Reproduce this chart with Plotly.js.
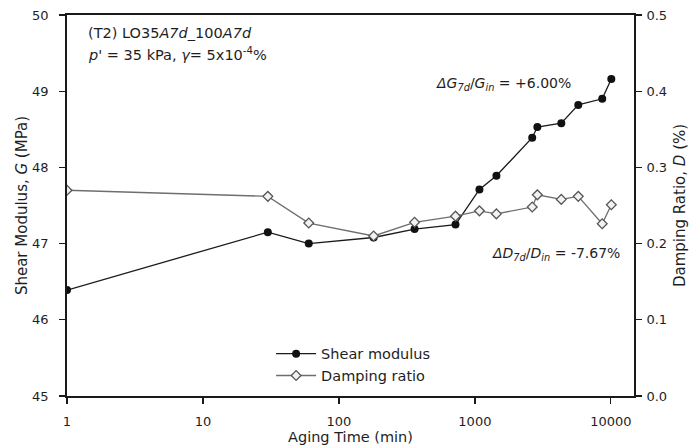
<!DOCTYPE html>
<html>
<head>
<meta charset="utf-8">
<script src="https://cdn.plot.ly/plotly-3.0.1.min.js"></script>
<style>html,body{margin:0;padding:0;background:#fff;}#chart{width:689px;height:447px;}</style>
</head>
<body>
<div id="chart"></div>
<script>
// Aging time (min)
const agingTime = [1, 30, 60, 180, 360, 720, 1080, 1440, 2640, 2880, 4320, 5760, 8640, 10080];
// Shear modulus G (MPa)
const shearModulus = [46.39, 47.15, 47.00, 47.08, 47.19, 47.25, 47.71, 47.89, 48.39, 48.53, 48.58, 48.82, 48.90, 49.16];
// Damping ratio D (%)
const dampingRatio = [0.270, 0.262, 0.227, 0.210, 0.228, 0.236, 0.243, 0.239, 0.248, 0.264, 0.258, 0.262, 0.226, 0.251];
const xTicks = [1, 10, 100, 1000, 10000];
const xTickText = ['1', '10', '100', '1000', '10000'];
const yLeftTicks = [45, 46, 47, 48, 49, 50];
const yRightTicks = [0.0, 0.1, 0.2, 0.3, 0.4, 0.5];

const FAM = 'DejaVu Sans, Liberation Sans, Arial, sans-serif';
const TXT = '#1e1e1e';
const tickFont = {family: FAM, size: 13, color: TXT};
const titleFont = {family: FAM, size: 14.5, color: TXT};

const traces = [
  {
    x: agingTime, y: shearModulus, name: 'Shear modulus', type: 'scatter', mode: 'lines+markers',
    line: {color: '#1a1a1a', width: 1.3},
    marker: {symbol: 'circle', size: 8, color: '#111', line: {color: '#111', width: 0}},
    yaxis: 'y'
  },
  {
    x: agingTime, y: dampingRatio, name: 'Damping ratio', type: 'scatter', mode: 'lines+markers',
    line: {color: '#6e6e6e', width: 1.3},
    marker: {symbol: 'diamond', size: 7.5, color: '#f2f2f2', line: {color: '#555', width: 1.3}},
    yaxis: 'y2'
  }
];

const layout = {
  width: 689, height: 447,
  margin: {l: 67, r: 55, t: 15, b: 51},
  paper_bgcolor: '#fff', plot_bgcolor: '#fff',
  font: tickFont,
  showlegend: true,
  legend: {x: 0.36, y: 0.153, xanchor: 'left', yanchor: 'top', bgcolor: 'rgba(0,0,0,0)',
           font: {family: FAM, size: 14.5, color: TXT}, tracegroupgap: 0, itemwidth: 40},
  xaxis: {
    type: 'log', range: [0, Math.log10(14800)],
    tickvals: xTicks, ticktext: xTickText,
    ticks: 'outside', ticklen: 6, tickwidth: 1.3, tickcolor: '#1a1a1a', ticklabelstandoff: 7,
    showline: true, linecolor: '#1a1a1a', linewidth: 1.8, mirror: true,
    showgrid: false, zeroline: false,
    tickfont: tickFont,
    title: {text: 'Aging Time (min)', font: titleFont, standoff: 0}
  },
  yaxis: {
    range: [45, 50], tickvals: yLeftTicks,
    ticks: 'outside', ticklen: 6, tickwidth: 1.3, tickcolor: '#1a1a1a', ticklabelstandoff: 8,
    showline: true, linecolor: '#1a1a1a', linewidth: 1.8,
    showgrid: false, zeroline: false,
    tickfont: tickFont,
    title: {text: 'Shear Modulus, <i>G</i> (MPa)', font: {family: FAM, size: 15, color: TXT}, standoff: 1}
  },
  yaxis2: {
    overlaying: 'y', side: 'right', range: [0, 0.5], tickvals: yRightTicks, tickformat: '.1f',
    ticks: 'outside', ticklen: 6, tickwidth: 1.3, tickcolor: '#1a1a1a', ticklabelstandoff: 2,
    showline: true, linecolor: '#1a1a1a', linewidth: 1.8,
    showgrid: false, zeroline: false,
    tickfont: tickFont,
    title: {text: 'Damping Ratio, <i>D</i> (%)', font: {family: FAM, size: 15, color: TXT}, standoff: 10}
  },
  annotations: [
    {xref: 'paper', yref: 'paper', x: 0.033, y: 0.953, xanchor: 'left', yanchor: 'middle', showarrow: false,
     text: '(T2) LO35<i>A7d</i>_100<i>A7d</i>',
     font: {family: FAM, size: 14.5, color: TXT}},
    {xref: 'paper', yref: 'paper', x: 0.033, y: 0.897, xanchor: 'left', yanchor: 'middle', showarrow: false,
     text: '<i>p\'</i> = 35 kPa, <i>γ</i>= 5x10<sup>-4</sup>%',
     font: {family: FAM, size: 14.5, color: TXT}},
    {xref: 'paper', yref: 'paper', x: 0.647, y: 0.818, xanchor: 'left', yanchor: 'middle', showarrow: false,
     text: '<i>ΔG</i><sub><i>7d</i></sub>/<i>G</i><sub><i>in</i></sub> = +6.00%',
     font: {family: FAM, size: 14, color: TXT}},
    {xref: 'paper', yref: 'paper', x: 0.746, y: 0.372, xanchor: 'left', yanchor: 'middle', showarrow: false,
     text: '<i>ΔD</i><sub><i>7d</i></sub>/<i>D</i><sub><i>in</i></sub> = -7.67%',
     font: {family: FAM, size: 14, color: TXT}}
  ]
};

Plotly.newPlot('chart', traces, layout, {staticPlot: true, displayModeBar: false});
</script>
</body>
</html>
